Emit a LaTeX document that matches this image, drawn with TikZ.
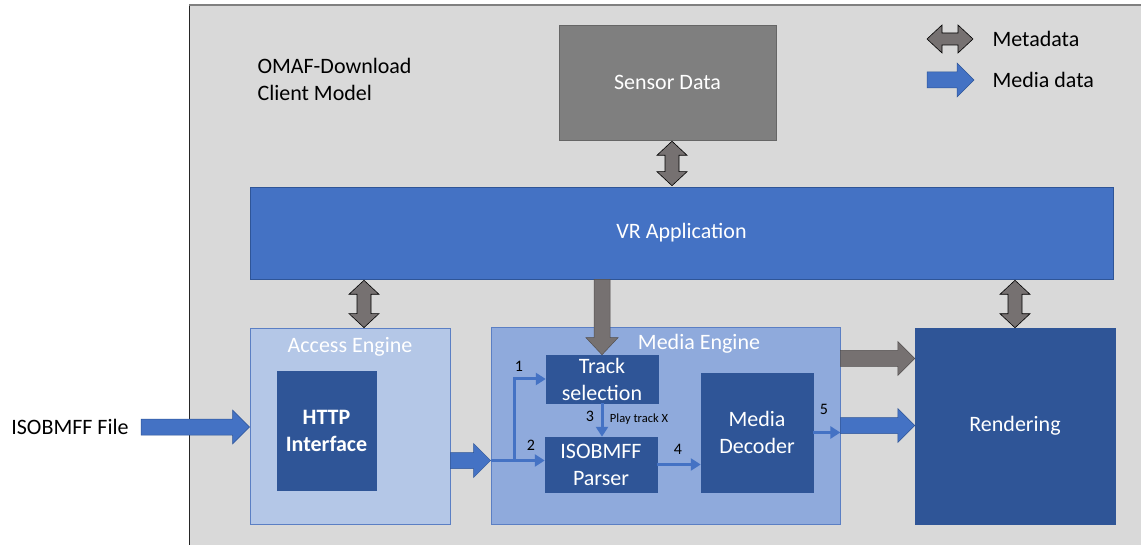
\documentclass[tikz,border=0pt]{standalone}
\usepackage{fontspec}
\setmainfont{Carlito}
\usetikzlibrary{calc,arrows.meta}

\definecolor{panelgray}{HTML}{D9D9D9}
\definecolor{sensorgray}{HTML}{7F7F7F}
\definecolor{arrowgray}{HTML}{767171}
\definecolor{vrblue}{HTML}{4472C4}
\definecolor{accessblue}{HTML}{B4C7E7}
\definecolor{mediablue}{HTML}{8FAADC}
\definecolor{darkblue}{HTML}{2F5597}
\definecolor{edgeblue}{HTML}{5B7FC4}

\tikzset{
  bigtext/.style={font=\fontsize{22}{27}\selectfont},
  block/.style={bigtext, draw=darkblue, line width=0.5pt, fill=darkblue, text=white, align=center, inner sep=0pt},
  engine/.style={draw=edgeblue, line width=0.8pt, inner sep=0pt},
  numlabel/.style={font=\fontsize{16}{18}\selectfont},
  thinarrow/.style={draw=vrblue, line width=3pt, -{Triangle[length=10pt,width=12pt]}},
  % fat arrow pointing right
  fatright/.style={to path={let \p1=(\tikztostart), \p2=(\tikztotarget) in
    ({\x1},{\y1+8pt}) -- ({\x2-17pt},{\y1+8pt}) -- ({\x2-17pt},{\y1+17pt}) -- ({\x2},{\y1})
    -- ({\x2-17pt},{\y1-17pt}) -- ({\x2-17pt},{\y1-8pt}) -- ({\x1},{\y1-8pt}) -- cycle}},
  % fat arrow pointing down
  fatdown/.style={to path={let \p1=(\tikztostart), \p2=(\tikztotarget) in
    ({\x1-8pt},{\y1}) -- ({\x1+8pt},{\y1}) -- ({\x1+8pt},{\y2+17pt}) -- ({\x1+16pt},{\y2+17pt})
    -- ({\x1},{\y2}) -- ({\x1-16pt},{\y2+17pt}) -- ({\x1-8pt},{\y2+17pt}) -- cycle}},
  % vertical double arrow (metadata)
  metaarrow/.style={draw=black, fill=arrowgray, line width=0.6pt, to path={let \p1=(\tikztostart), \p2=(\tikztotarget) in
    ({\x1},{\y1}) -- ({\x1+15pt},{\y1-14pt}) -- ({\x1+7pt},{\y1-14pt}) -- ({\x1+7pt},{\y2+14pt})
    -- ({\x1+15pt},{\y2+14pt}) -- ({\x1},{\y2}) -- ({\x1-15pt},{\y2+14pt}) -- ({\x1-7pt},{\y2+14pt})
    -- ({\x1-7pt},{\y1-14pt}) -- ({\x1-15pt},{\y1-14pt}) -- cycle}},
  % horizontal double arrow (legend)
  metalegend/.style={draw=black, fill=arrowgray, line width=0.6pt, to path={let \p1=(\tikztostart), \p2=(\tikztotarget) in
    ({\x1},{\y1}) -- ({\x1+15pt},{\y1+14pt}) -- ({\x1+15pt},{\y1+6pt}) -- ({\x2-15pt},{\y1+6pt})
    -- ({\x2-15pt},{\y1+14pt}) -- ({\x2},{\y1}) -- ({\x2-15pt},{\y1-14pt}) -- ({\x2-15pt},{\y1-6pt})
    -- ({\x1+15pt},{\y1-6pt}) -- ({\x1+15pt},{\y1-14pt}) -- cycle}},
  mediaarrow/.style={fatright, fill=vrblue, draw=darkblue, line width=0.5pt},
  grayarrow/.style={fill=arrowgray, draw=arrowgray!70!black, line width=0.5pt},
}

\begin{document}
\begin{tikzpicture}[x=1pt, y=-1pt]
	\useasboundingbox (0,0) rectangle (1141,545);
	\fill[white] (0,0) rectangle (1141,545);

	% Client panel
	\fill[panelgray] (189,5) rectangle (1141,545);
	\draw[black!85, line width=1pt] (189,545) -- (189,5);
	\draw[gray, line width=2pt] (189,5) -- (1141,5);
	\node[bigtext, align=left, anchor=west] (model) at (254,79) {OMAF-Download\\Client Model};

	% Legend
	\coordinate (metaL) at (927,39);
	\coordinate (metaR) at (973,39);
	\draw[metalegend] (metaL) to (metaR);
	\node[bigtext, anchor=west] (metatext) at (989,39) {Metadata};
	\coordinate (mediaL) at (927,80);
	\coordinate (mediaR) at (974,80);
	\draw[mediaarrow] (mediaL) to (mediaR);
	\node[bigtext, anchor=west] (mediatext) at (989,80) {Media data};

	% Main blocks
	\node[bigtext, draw=sensorgray!80!black, line width=0.5pt, fill=sensorgray, text=white, minimum width=217pt, minimum height=115pt, inner sep=0pt] (sensor) at (667.5,82.5) {Sensor Data};
	\node[bigtext, draw=darkblue, line width=0.6pt, fill=vrblue, text=white, minimum width=863pt, minimum height=92pt, inner sep=0pt] (vrapp) at (681.5,233) {VR Application};
	\node[engine, fill=accessblue, minimum width=200pt, minimum height=196pt] (access) at (350,426) {};
	\node[bigtext, text=white] (accesstitle) at (350,347) {Access Engine};
	\node[block, font=\fontsize{22}{27}\selectfont\bfseries, minimum width=99pt, minimum height=119pt] (http) at (326.5,430.5) {HTTP\\Interface};
	\node[engine, fill=mediablue, minimum width=349pt, minimum height=197pt] (media) at (665.5,425.5) {};
	\node[bigtext, text=white] (mediatitle) at (699,344) {Media Engine};
	\node[block, minimum width=112pt, minimum height=48pt] (tracksel) at (602,379) {Track\\selection};
	\node[block, minimum width=112pt, minimum height=55pt] (parser) at (601,464.5) {ISOBMFF\\Parser};
	\node[block, minimum width=112pt, minimum height=119pt] (decoder) at (757,432.5) {Media\\Decoder};
	\node[block, minimum width=200pt, minimum height=196pt] (render) at (1015,426) {Rendering};
	\node[bigtext] (isofile) at (70,427) {ISOBMFF File};

	% Media data flow
	\coordinate (entry) at ([yshift=-35pt]media.west);
	\draw[mediaarrow] ([xshift=9pt]isofile.east) to (access.west);
	\draw[mediaarrow] (access.east |- entry) to (entry);
	\draw[mediaarrow] (media.east) to (render.west);
	\draw[thinarrow] (entry) -- (entry -| parser.west);
	\draw[thinarrow] ([xshift=24pt]entry) |- (tracksel.west);
	\draw[thinarrow] (tracksel.south) -- (tracksel.south |- parser.north);
	\draw[thinarrow] (parser.east) -- (parser.east -| decoder.west);
	\draw[thinarrow] (decoder.east) -- (decoder.east -| media.east);

	% Step numbers
	\node[numlabel] (n1) at (519,366) {1};
	\node[numlabel] (n2) at (531,445) {2};
	\node[numlabel] (n3) at (590,416) {3};
	\node[font=\fontsize{12.5}{14}\selectfont] (playx) at (639,419) {Play track X};
	\node[numlabel] (n4) at (678,449) {4};
	\node[numlabel] (n5) at (824,409) {5};

	% Metadata flow
	\draw[grayarrow, fatdown] (tracksel.north |- vrapp.south) to (tracksel.north);
	\draw[grayarrow, fatright] ([yshift=67pt]media.east) to ([yshift=67pt]render.west);
	\draw[metaarrow] ([xshift=4.5pt, yshift=-1pt]sensor.south) to ([xshift=4.5pt, yshift=1pt]sensor.south |- vrapp.north);
	\draw[metaarrow] ([xshift=14pt, yshift=-1pt]access.north |- vrapp.south) to ([xshift=14pt]access.north);
	\draw[metaarrow] ([yshift=-1pt]render.north |- vrapp.south) to (render.north);
\end{tikzpicture}
\end{document}
